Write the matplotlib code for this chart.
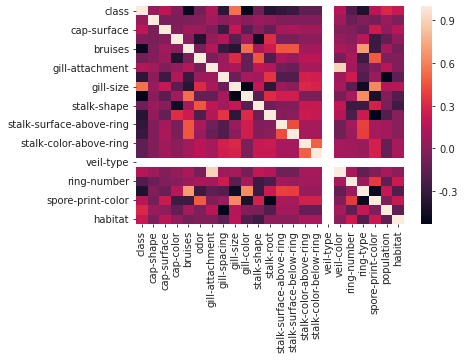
import numpy as np
import matplotlib
matplotlib.use("Agg")
import matplotlib.pyplot as plt
from matplotlib.transforms import ScaledTranslation
import seaborn as sns

labels = ["class", "cap-shape", "cap-surface", "cap-color", "bruises", "odor",
          "gill-attachment", "gill-spacing", "gill-size", "gill-color", "stalk-shape",
          "stalk-root", "stalk-surface-above-ring", "stalk-surface-below-ring",
          "stalk-color-above-ring", "stalk-color-below-ring", "veil-type", "veil-color",
          "ring-number", "ring-type", "spore-print-color", "population", "habitat"]
n = np.nan
# upper-triangle rows, each starting at the diagonal
r_class = [1, .05, .18, -.03, -.50, -.09, .13, -.35, .54, -.53, -.10, -.38, -.33, -.30, -.15, -.15, n, .15, -.21, -.41, .17, .30, .22]
r_cap_shape = [1, -.05, -.05, -.04, -.02, .08, .01, .05, -.01, .06, .03, -.03, -.03, -.03, -.03, n, .07, -.11, -.03, -.07, .06, -.04]
r_cap_surface = [1, -.02, .07, .05, -.03, -.28, .21, -.16, -.01, -.13, .09, .11, .07, .07, n, -.02, -.03, -.11, .23, .02, .16]
r_cap_color = [1, 0, -.39, .04, .14, -.17, .08, -.46, .32, -.06, -.05, 0, .01, n, .04, -.01, .16, -.29, -.14, .03]
r_bruises = [1, -.06, .14, -.30, -.37, .53, .10, .24, .46, .46, .08, .09, n, .12, .06, .69, -.29, .09, -.08]
r_odor = [1, -.06, .06, .31, -.13, .46, -.21, .12, .06, .17, .17, n, -.06, .11, -.28, .47, -.04, -.03]
r_gill_attachment = [1, .07, .11, -.13, .19, .14, -.09, -.12, .10, .10, n, .90, .09, -.15, -.03, .17, -.03]
r_gill_spacing = [1, -.11, .10, .08, .35, -.21, -.21, .27, .25, n, .07, .24, -.20, .05, -.53, -.15]
r_gill_size = [1, -.52, .21, -.34, .06, .01, .30, .28, n, .10, -.17, -.46, .62, .15, .16]
r_gill_color = [1, -.18, .31, .25, .25, -.05, -.05, n, -.06, .10, .63, -.42, -.03, -.20]
r_stalk_shape = [1, -.10, -.03, -.03, .22, .22, n, .20, -.29, -.29, .27, -.05, -.27]
r_stalk_root = [1, -.02, 0, .23, .22, n, .15, -.23, .23, -.53, -.20, 0]
r_ssar = [1, .43, .10, .10, n, -.09, .09, .39, .10, .09, 0]
r_ssbr = [1, .10, .10, n, -.09, .05, .38, .10, .09, 0]
r_scar = [1, .49, n, .10, .08, .05, .27, -.13, .10]
r_scbr = [1, n, .10, .08, .05, .27, -.13, .10]
r_veil_type = [n, n, n, n, n, n, n]
r_veil_color = [1, .10, -.14, -.03, .10, 0]
r_ring_number = [1, .06, .37, -.15, .23]
r_ring_type = [1, -.49, .21, -.20]
r_spore = [1, -.04, .22]
r_population = [1, -.15]
r_habitat = [1]

rows = [r_class, r_cap_shape, r_cap_surface, r_cap_color, r_bruises, r_odor,
        r_gill_attachment, r_gill_spacing, r_gill_size, r_gill_color, r_stalk_shape,
        r_stalk_root, r_ssar, r_ssbr, r_scar, r_scbr, r_veil_type, r_veil_color,
        r_ring_number, r_ring_type, r_spore, r_population, r_habitat]
N = len(labels)
corr = np.full((N, N), np.nan)
for i, row in enumerate(rows):
    corr[i, i:] = row
    corr[i:, i] = row

W, H = 465, 360
fig = plt.figure(figsize=(W / 100, H / 100), dpi=100, facecolor="white")
ax = fig.add_axes([136 / W, 1 - 224 / H, 268 / W, 218 / H])
cax = fig.add_axes([421 / W, 1 - 224 / H, 11 / W, 218 / H])
sns.heatmap(corr, ax=ax, cbar_ax=cax, vmax=1, xticklabels=labels, yticklabels=labels)

fs = 7.2
text_col = "#222222"
ax.set_xticks(np.arange(N) + .5)
ax.set_xticklabels(labels, rotation=90, fontsize=fs, color=text_col)
ax.set_yticks(np.arange(0, N, 2) + .5)
ax.set_yticklabels(labels[::2], rotation=0, fontsize=fs, color=text_col)
ax.tick_params(length=2.5, width=.6, pad=2.5, color=text_col)
cax.set_yticks([-.3, 0, .3, .6, .9])
cax.set_yticklabels(["-0.3", "0.0", "0.3", "0.6", "0.9"], fontsize=fs, color=text_col)
cax.tick_params(length=2.5, width=.6, pad=2.5, color=text_col)
shift = ScaledTranslation(0, -1 / 100, fig.dpi_scale_trans)
for lab in ax.get_yticklabels() + cax.get_yticklabels():
    lab.set_transform(lab.get_transform() + shift)
fig.savefig("out.png", dpi=100, facecolor="white")
